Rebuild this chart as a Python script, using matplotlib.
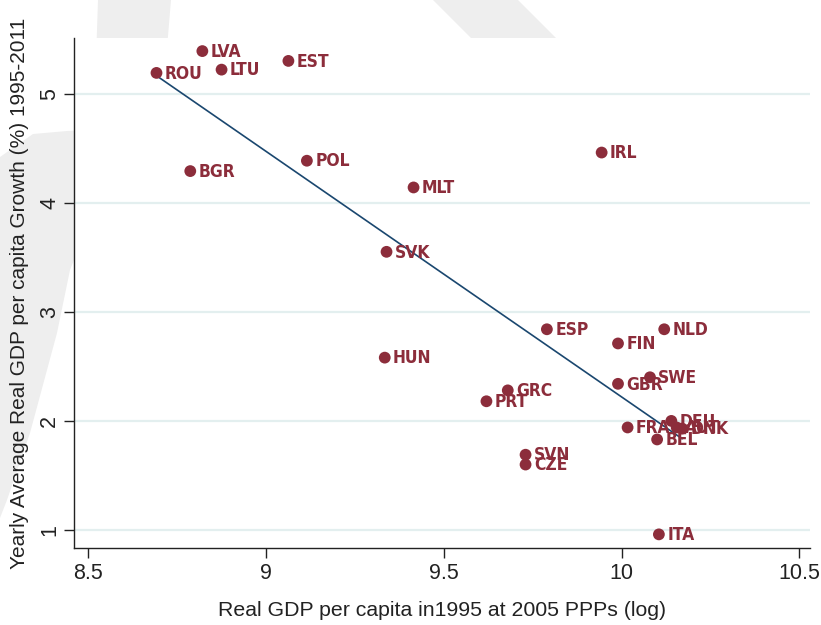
import matplotlib
matplotlib.use("Agg")
import matplotlib.pyplot as plt
from matplotlib.patches import Polygon
import numpy as np

# data
countries = ["ROU", "LVA", "LTU", "EST", "BGR", "POL", "MLT", "SVK", "IRL",
             "ESP", "NLD", "FIN", "HUN", "SWE", "GBR", "GRC", "PRT", "FRA",
             "DEU", "AUT", "DNK", "BEL", "SVN", "CZE", "ITA"]
gdp95_log = [8.692, 8.821, 8.875, 9.063, 8.787, 9.115, 9.415, 9.339, 9.944,
             9.790, 10.120, 9.990, 9.334, 10.080, 9.990, 9.680, 9.620, 10.017,
             10.140, 10.155, 10.170, 10.100, 9.730, 9.730, 10.105]
growth = [5.19, 5.39, 5.22, 5.30, 4.29, 4.385, 4.14, 3.55, 4.46,
          2.84, 2.84, 2.71, 2.58, 2.40, 2.34, 2.28, 2.18, 1.94,
          2.00, 1.94, 1.93, 1.83, 1.69, 1.60, 0.96]
# linear fit as drawn
fit_intercept = 24.73
fit_slope = -2.251

xticks = [8.5, 9, 9.5, 10, 10.5]
xticklabels = ["8.5", "9", "9.5", "10", "10.5"]
yticks = [1, 2, 3, 4, 5]

W, H = 821, 625
fig = plt.figure(figsize=(W / 100, H / 100), dpi=100)
fig.patch.set_facecolor("white")

def px(pts):
    return [(x / W, 1 - y / H) for x, y in pts]

# faint watermark behind the plot
wm = "#eeeeee"
fig.patches.append(Polygon(px([(98, 0), (171, 0), (166, 60), (96, 60)]),
                           closed=True, transform=fig.transFigure, fc=wm, ec="none", zorder=0))
fig.patches.append(Polygon(px([(433, 0), (518, 0), (580, 62), (495, 62)]),
                           closed=True, transform=fig.transFigure, fc=wm, ec="none", zorder=0))
fig.patches.append(Polygon(px([(0, 157), (33, 134), (67, 131), (90, 130), (90, 220),
                               (70, 270), (57, 333), (30, 433), (7, 500), (0, 518)]),
                           closed=True, transform=fig.transFigure, fc=wm, ec="none", zorder=0))

ax = fig.add_axes([74 / W, 1 - 548 / H, (810 - 74) / W, (548 - 38) / H])
ax.set_facecolor("white")
ax.set_zorder(1)

x = np.array(gdp95_log)
y = np.array(growth)

ax.set_xlim(8.46, 10.53)
ax.set_ylim(0.835, 5.51)

for t in yticks:
    ax.axhline(t, color="#e3efef", lw=1.6, zorder=1)

xs = np.array([x.min(), x.max()])
ax.plot(xs, fit_intercept + fit_slope * xs, color="#1a476f", lw=1.2, zorder=2)

mc = "#8c2d3b"
ax.scatter(x, y, s=72, color=mc, edgecolors="none", zorder=3)
for name, xi, yi in zip(countries, x, y):
    ax.annotate(name, (xi, yi), xytext=(6, -0.5), textcoords="offset points",
                ha="left", va="center", color=mc, fontsize=12.5, fontweight="bold",
                family="DejaVu Sans", fontstretch="condensed", zorder=4)

ax.spines["top"].set_visible(False)
ax.spines["right"].set_visible(False)
for s in ("left", "bottom"):
    ax.spines[s].set_color("#222222")
    ax.spines[s].set_linewidth(1.0)

ax.set_xticks(xticks)
ax.set_xticklabels(xticklabels)
ax.set_yticks(yticks)
ax.set_yticklabels([str(t) for t in yticks], rotation=90, va="center")
ax.tick_params(length=7, width=1.0, color="#222222", labelsize=15.5, pad=4)
ax.tick_params(axis="y", pad=3)
for lab in ax.get_xticklabels() + ax.get_yticklabels():
    lab.set_family("Liberation Sans")
    lab.set_color("#222222")

ax.set_xlabel("Real GDP per capita in1995 at 2005 PPPs (log)", fontsize=15.3,
              family="Liberation Sans", color="#222222", labelpad=12)
ax.set_ylabel("Yearly Average Real GDP per capita Growth (%) 1995-2011", fontsize=15,
              family="Liberation Sans", color="#222222", labelpad=7)

fig.savefig("out.png", dpi=100, facecolor="white")
